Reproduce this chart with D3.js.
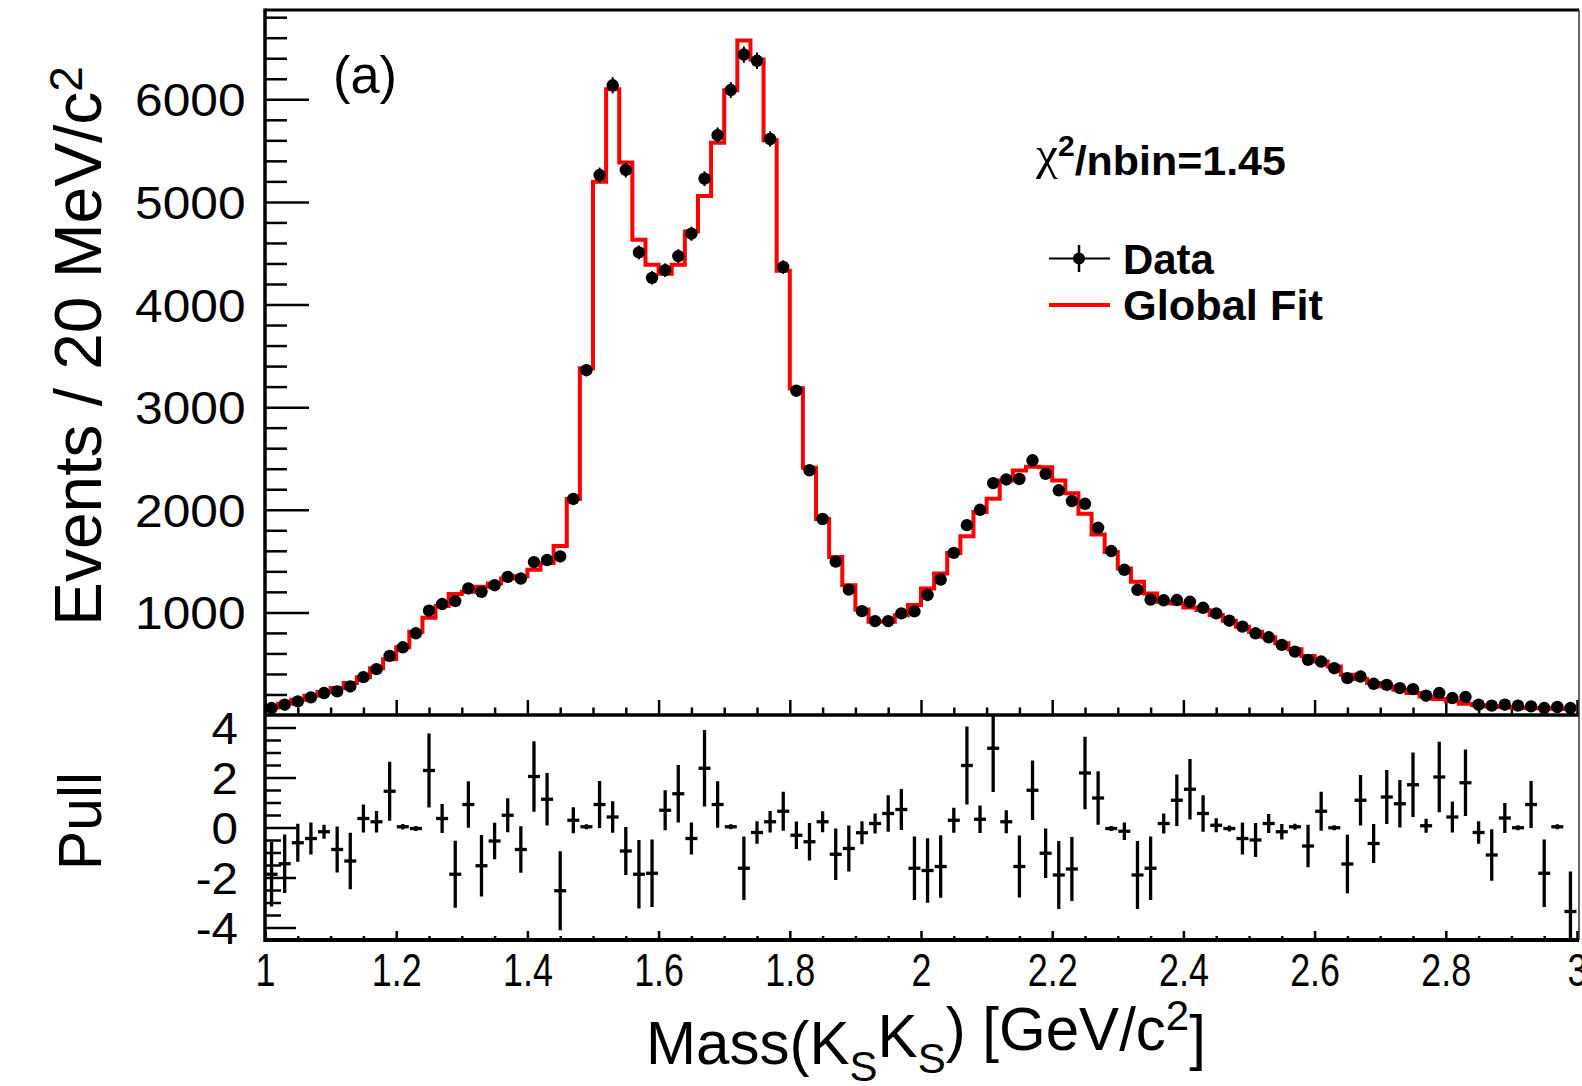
<!DOCTYPE html>
<html>
<head>
<meta charset="utf-8">
<script src="https://cdn.jsdelivr.net/npm/d3@7"></script>
<style>
  body { margin: 0; background: #fff; }
  text { font-family: 'Liberation Sans', Arial, Helvetica, sans-serif; fill: #000; }
</style>
</head>
<body>
<div class="vis-fit"></div>
<script>
// 100 bins of 20 MeV between 1.0 and 3.0 GeV
const binLow = 1.0;
const binWidth = 0.02;

// events per bin (data points)
const events = [
  68, 100, 133, 172, 214, 230, 278, 369, 447, 576,
  660, 796, 1016, 1081, 1110, 1233, 1200, 1265, 1346, 1330,
  1490, 1510, 1545, 2105, 3360, 5262, 6136, 5311, 4508, 4260,
  4335, 4472, 4690, 5226, 5650, 6090, 6436, 6375, 5613, 4365,
  3160, 2385, 1910, 1495, 1222, 1012, 915, 915, 990, 1010,
  1170, 1320, 1580, 1850, 2000, 2260, 2295, 2300, 2482, 2350,
  2190, 2085, 2058, 1824, 1598, 1415, 1220, 1124, 1118, 1120,
  1103, 1045, 990, 919, 861, 796, 757, 683, 618, 537,
  521, 456, 359, 375, 304, 294, 262, 252, 188, 214,
  165, 175, 100, 91, 100, 91, 84, 68, 78, 68
];

// global fit histogram
const fitValues = [
  74, 110, 149, 188, 223, 262, 311, 369, 456, 544,
  660, 812, 948, 1061, 1178, 1200, 1249, 1281, 1330, 1353,
  1415, 1482, 1647, 2105, 3380, 5197, 6097, 5385, 4631, 4388,
  4300, 4388, 4711, 5058, 5576, 6087, 6573, 6388, 5601, 4330,
  3185, 2410, 1910, 1540, 1265, 1029, 909, 909, 973, 1071,
  1233, 1379, 1579, 1741, 1977, 2107, 2284, 2382, 2420, 2414,
  2284, 2161, 1961, 1760, 1588, 1427, 1298, 1184, 1103, 1087,
  1048, 1023, 974, 919, 861, 812, 757, 699, 641, 576,
  521, 472, 392, 350, 311, 278, 246, 214, 181, 155,
  133, 110, 94, 84, 78, 71, 68, 65, 61, 58
];

// pull per bin and its error bar half length
const pulls = [
  -1.87, -1.45, -0.61, -0.44, -0.17, -0.88, -1.34, 0.36, 0.23, 1.45,
  0.03, -0.04, 2.28, 0.36, -1.87, 0.92, -1.53, -0.54, 0.49, -0.88,
  2.04, 1.13, -2.53, 0.29, 0.03, 0.92, 0.42, -0.94, -1.87, -1.83,
  0.69, 1.35, -0.44, 2.37, 0.92, 0.03, -1.63, -0.20, 0.23, 0.65,
  -0.31, -0.57, 0.23, -1.07, -0.84, -0.21, 0.16, 0.56, 0.72, -1.63,
  -1.72, -1.56, 0.29, 2.48, 0.33, 3.17, 0.23, -1.56, 1.49, -1.03,
  -1.90, -1.66, 2.18, 1.18, -0.04, -0.15, -1.90, -1.63, 0.16, 1.09,
  1.53, 0.56, 0.09, -0.04, -0.44, -0.50, 0.16, -0.17, 0.03, -0.74,
  0.65, -0.01, -1.46, 1.09, -0.64, 1.22, 0.95, 1.71, 0.07, 2.02,
  0.42, 1.79, -0.20, -1.10, 0.38, -0.01, 0.92, -1.83, 0.03, -3.36
];
const pullErrors = [
  1.29, 1.17, 0.76, 0.64, 0.28, 0.92, 1.13, 0.56, 0.43, 1.18,
  0.11, 0.10, 1.48, 0.58, 1.34, 0.93, 1.23, 0.73, 0.68, 0.93,
  1.41, 1.05, 1.58, 0.52, 0.10, 0.94, 0.63, 0.96, 1.37, 1.35,
  0.80, 1.15, 0.64, 1.53, 0.93, 0.10, 1.27, 0.45, 0.43, 0.78,
  0.55, 0.75, 0.42, 1.03, 0.92, 0.46, 0.40, 0.73, 0.82, 1.27,
  1.29, 1.25, 0.50, 1.56, 0.55, 1.75, 0.46, 1.24, 1.19, 0.99,
  1.36, 1.28, 1.45, 1.07, 0.10, 0.35, 1.36, 1.27, 0.40, 1.03,
  1.21, 0.73, 0.28, 0.12, 0.64, 0.68, 0.38, 0.31, 0.12, 0.85,
  0.78, 0.10, 1.17, 1.01, 0.78, 1.08, 0.95, 1.29, 0.28, 1.41,
  0.62, 1.33, 0.45, 1.03, 0.60, 0.10, 0.94, 1.35, 0.10, 1.60
];

const xTickValues = [1, 1.2, 1.4, 1.6, 1.8, 2, 2.2, 2.4, 2.6, 2.8, 3];
const yTickValues = [1000, 2000, 3000, 4000, 5000, 6000];
const pullTickValues = [-4, -2, 0, 2, 4];
const legendLabels = ['Data', 'Global Fit'];
const chiLabel = '1.45';

const W = 1582;
const H = 1086;
const xLeft = 265;
const xRight = 1579;
const yTop = 10;
const yMid = 715;
const yBottom = 940;

const svg = d3
  .select('.vis-fit')
  .append('svg')
  .attr('width', W)
  .attr('height', H)
  .style('display', 'block');

svg.append('rect').attr('width', W).attr('height', H).attr('fill', '#fff');

const x = d3.scaleLinear().domain([1, 3]).range([xLeft, 1577]);
const y = d3.scaleLinear().domain([0, 6870]).range([yMid, yTop]);
const yp = d3.scaleLinear().domain([-4.5, 4.5]).range([yBottom, yMid]);

const defs = svg.append('defs');
defs.append('clipPath').attr('id', 'clipTop')
  .append('rect').attr('x', xLeft).attr('y', yTop).attr('width', xRight - xLeft).attr('height', yMid - yTop);
defs.append('clipPath').attr('id', 'clipPull')
  .append('rect').attr('x', xLeft).attr('y', yMid).attr('width', xRight - xLeft).attr('height', yBottom - yMid);

// scale a text element horizontally so that it spans the given width
const fitWidth = (sel, width) => {
  const w = sel.node().getBBox().width;
  sel.attr('transform', `scale(${width / w},1)`);
};

// plain labels, ascii minus like the original
const plain = (d) => String(d);

// ---- upper panel: axis ticks
const minorY = d3.range(200, 6900, 200).filter((v) => v % 1000 !== 0);
svg.append('g')
  .attr('transform', `translate(${xLeft},0)`)
  .call(d3.axisLeft(y).tickValues(minorY).tickSize(-22).tickSizeOuter(0).tickFormat(''))
  .call((g) => g.select('.domain').remove());
const yAxis = svg.append('g')
  .attr('transform', `translate(${xLeft},0)`)
  .call(d3.axisLeft(y).tickValues(yTickValues).tickSize(-44).tickSizeOuter(0).tickPadding(18).tickFormat(plain));
yAxis.select('.domain').remove();
yAxis.selectAll('text')
  .style('font-size', '46px')
  .attr('dy', '0.36em')
  .attr('transform', 'scale(1.08,1)');

const minorX = d3.range(0, 41).filter((i) => i % 4 !== 0).map((i) => 1 + i * 0.05);
svg.append('g')
  .attr('transform', `translate(0,${yMid})`)
  .call(d3.axisBottom(x).tickValues(minorX).tickSize(-7.5).tickSizeOuter(0).tickFormat(''))
  .call((g) => g.select('.domain').remove());
svg.append('g')
  .attr('transform', `translate(0,${yMid})`)
  .call(d3.axisBottom(x).tickValues(xTickValues).tickSize(-15).tickSizeOuter(0).tickFormat(''))
  .call((g) => g.select('.domain').remove());

// ---- lower panel: axis ticks
const minorPull = d3.range(-4, 4.01, 0.5).filter((v) => Math.abs(v % 2) > 0.01);
svg.append('g')
  .attr('transform', `translate(${xLeft},0)`)
  .call(d3.axisLeft(yp).tickValues(minorPull).tickSize(-16).tickSizeOuter(0).tickFormat(''))
  .call((g) => g.select('.domain').remove());
const pAxis = svg.append('g')
  .attr('transform', `translate(${xLeft},0)`)
  .call(d3.axisLeft(yp).tickValues(pullTickValues).tickSize(-31).tickSizeOuter(0).tickPadding(25).tickFormat(plain));
pAxis.select('.domain').remove();
pAxis.selectAll('text')
  .style('font-size', '44px')
  .attr('dy', '0.36em')
  .attr('transform', 'scale(1.08,1)');

svg.append('g')
  .attr('transform', `translate(0,${yBottom})`)
  .call(d3.axisBottom(x).tickValues(minorX).tickSize(-4).tickSizeOuter(0).tickFormat(''))
  .call((g) => g.select('.domain').remove());
const xAxis = svg.append('g')
  .attr('transform', `translate(0,${yBottom})`)
  .call(d3.axisBottom(x).tickValues(xTickValues).tickSize(-9).tickSizeOuter(0).tickPadding(13).tickFormat(plain));
xAxis.select('.domain').remove();
xAxis.selectAll('text')
  .style('font-size', '46px')
  .attr('transform', 'scale(0.78,1)');

svg.selectAll('.tick line').attr('stroke', '#000').attr('stroke-width', 2.5);

// ---- fit histogram
const steps = fitValues.map((v, i) => [binLow + i * binWidth, v]);
steps.push([binLow + fitValues.length * binWidth, fitValues[fitValues.length - 1]]);
svg.append('path')
  .datum(steps)
  .attr('clip-path', 'url(#clipTop)')
  .attr('fill', 'none')
  .attr('stroke', '#ff0000')
  .attr('stroke-width', 4)
  .attr('d', d3.line().x((d) => x(d[0])).y((d) => y(d[1])).curve(d3.curveStepAfter));

// ---- data points
const centre = (i) => x(binLow + (i + 0.5) * binWidth);
const pts = svg.append('g');
pts.selectAll('line')
  .data(events)
  .join('line')
  .attr('x1', (d, i) => centre(i))
  .attr('x2', (d, i) => centre(i))
  .attr('y1', (d) => y(d - Math.sqrt(d)))
  .attr('y2', (d) => y(d + Math.sqrt(d)))
  .attr('stroke', '#000')
  .attr('stroke-width', 2);
pts.selectAll('circle')
  .data(events)
  .join('circle')
  .attr('cx', (d, i) => centre(i))
  .attr('cy', (d) => y(d))
  .attr('r', 6.2)
  .attr('fill', '#000');

// ---- pulls
const pg = svg.append('g').attr('clip-path', 'url(#clipPull)');
pg.selectAll('line.v')
  .data(pulls)
  .join('line')
  .attr('class', 'v')
  .attr('x1', (d, i) => centre(i))
  .attr('x2', (d, i) => centre(i))
  .attr('y1', (d, i) => yp(d - pullErrors[i]))
  .attr('y2', (d, i) => yp(d + pullErrors[i]))
  .attr('stroke', '#000')
  .attr('stroke-width', 3.3);
pg.selectAll('line.h')
  .data(pulls)
  .join('line')
  .attr('class', 'h')
  .attr('x1', (d, i) => centre(i) - 6)
  .attr('x2', (d, i) => centre(i) + 6)
  .attr('y1', (d) => yp(d))
  .attr('y2', (d) => yp(d))
  .attr('stroke', '#000')
  .attr('stroke-width', 3.3);

// ---- frames
const frame = svg.append('g').attr('stroke', '#000');
frame.append('line').attr('x1', xLeft).attr('x2', xLeft).attr('y1', yTop - 1.5).attr('y2', yBottom + 2).attr('stroke-width', 3.5);
frame.append('line').attr('x1', xLeft).attr('x2', xRight).attr('y1', yTop).attr('y2', yTop).attr('stroke-width', 3);
frame.append('line').attr('x1', xLeft).attr('x2', xRight).attr('y1', yMid).attr('y2', yMid).attr('stroke-width', 3.5);
frame.append('line').attr('x1', xLeft).attr('x2', xRight).attr('y1', yBottom).attr('y2', yBottom).attr('stroke-width', 4);
frame.append('line').attr('x1', xRight).attr('x2', xRight).attr('y1', yTop).attr('y2', yBottom).attr('stroke-width', 1.5).attr('stroke', '#333');

// ---- axis titles
const yTitle = svg.append('g')
  .attr('transform', 'translate(101,346) rotate(-90)')
  .append('text')
  .attr('text-anchor', 'middle')
  .style('font-size', '66px');
yTitle.append('tspan').text('Events / 20 MeV/c');
yTitle.append('tspan').attr('dy', '-0.42em').style('font-size', '0.7em').text('2');
fitWidth(yTitle, 560);

const pTitle = svg.append('g')
  .attr('transform', 'translate(101,821) rotate(-90)')
  .append('text')
  .attr('text-anchor', 'middle')
  .style('font-size', '62px')
  .text('Pull');
fitWidth(pTitle, 98);

const xTitle = svg.append('g')
  .attr('transform', 'translate(926,1064)')
  .append('text')
  .attr('text-anchor', 'middle')
  .style('font-size', '62px');
xTitle.append('tspan').text('Mass(K');
xTitle.append('tspan').attr('dy', '0.38em').style('font-size', '0.7em').text('S');
xTitle.append('tspan').attr('dy', '-0.38em').text('K');
xTitle.append('tspan').attr('dy', '0.38em').style('font-size', '0.7em').text('S');
xTitle.append('tspan').attr('dy', '-0.38em').text(') [GeV/c');
xTitle.append('tspan').attr('dy', '-0.45em').style('font-size', '0.7em').text('2');
xTitle.append('tspan').attr('dy', '0.45em').text(']');
fitWidth(xTitle, 560);

// ---- labels
const tag = svg.append('g')
  .attr('transform', 'translate(333,93)')
  .append('text')
  .style('font-size', '52px')
  .text('(a)');
fitWidth(tag, 64);

const chi = svg.append('g')
  .attr('transform', 'translate(1036,169)')
  .append('text')
  .style('font-size', '41px')
  .style('font-weight', 'bold');
chi.append('tspan').style('font-family', "'Liberation Serif', serif").style('font-weight', 'normal')
  .style('font-size', '1.15em').text('\u03c7');
chi.append('tspan').attr('dy', '-0.45em').style('font-size', '0.7em').text('2');
chi.append('tspan').attr('dy', '0.45em').text(`/nbin=${chiLabel}`);
fitWidth(chi, 251);

// ---- legend
const leg = svg.append('g');
leg.append('line').attr('x1', 1049).attr('x2', 1110).attr('y1', 258.5).attr('y2', 258.5)
  .attr('stroke', '#000').attr('stroke-width', 2);
leg.append('line').attr('x1', 1079).attr('x2', 1079).attr('y1', 245).attr('y2', 272)
  .attr('stroke', '#000').attr('stroke-width', 2.5);
leg.append('circle').attr('cx', 1079).attr('cy', 258.5).attr('r', 6).attr('fill', '#000');
leg.append('line').attr('x1', 1049).attr('x2', 1110).attr('y1', 305).attr('y2', 305)
  .attr('stroke', '#ff0000').attr('stroke-width', 4);
const legendWidths = [92, 200];
const legendBase = [273.5, 320];
legendLabels.forEach((label, i) => {
  const t = leg.append('g')
    .attr('transform', `translate(1123,${legendBase[i]})`)
    .append('text')
    .style('font-size', '43px')
    .style('font-weight', 'bold')
    .text(label);
  fitWidth(t, legendWidths[i]);
});
</script>
</body>
</html>
